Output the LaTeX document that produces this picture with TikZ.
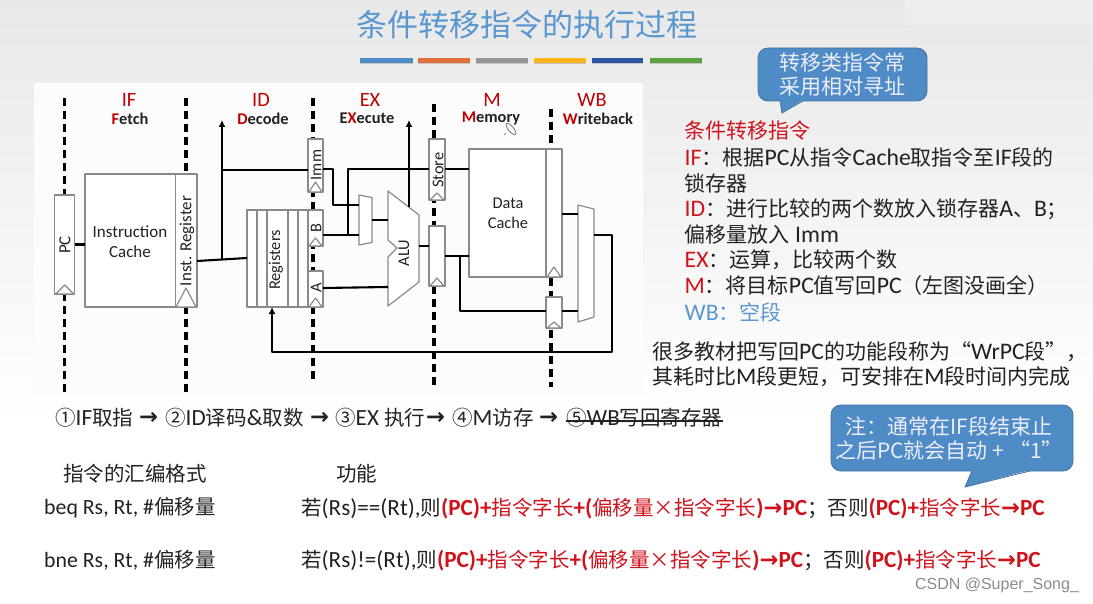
\documentclass[tikz,border=0pt]{standalone}
\usepackage{fontspec}
\usetikzlibrary{calc,arrows.meta,shadows}
\setmainfont[Scale=1.13]{Carlito}
\newfontfamily\cj{Noto Sans CJK SC}
\newfontfamily\wm{Liberation Sans}
\newfontfamily\arw[Scale=1.1]{DejaVu Sans}
\newcommand\z[1]{{\cj #1}}
\newcommand\fs[1]{\fontsize{#1}{#1}\selectfont}
\definecolor{rd}{HTML}{D0121B}
\definecolor{dkrd}{HTML}{C00000}
\definecolor{blu}{HTML}{5B97CF}
\definecolor{bub}{HTML}{4F8CC6}
\definecolor{bubl}{HTML}{41719C}
\definecolor{ink}{HTML}{222222}
\definecolor{gline}{HTML}{8A8A8A}
\newcommand\regb[5]{%
 \pgfmathsetmacro\bw{#4-#2}\pgfmathsetmacro\bh{#5-#3}%
 \pgfmathsetmacro\cxx{(#2+#4)/2}\pgfmathsetmacro\cyy{(#3+#5)/2}%
 \node[boxs,minimum width=\bw pt,minimum height=\bh pt] (#1) at (\cxx,\cyy) {};}
\newcommand\clk[4]{% node, x offset, half width, height
 \draw[boxline,fill=white] ($(#1.south)+(#2-#3,0)$) -- ($(#1.south)+(#2,-#4)$) -- ($(#1.south)+(#2+#3,0)$) -- cycle;}
\tikzset{
 boxline/.style={draw=gline,line width=1.2pt,line join=round},
 boxs/.style={boxline,fill=white,rectangle,inner sep=0pt,outer sep=0pt},
 wire/.style={draw=black,line width=2.1pt,line join=round},
 arrowwire/.style={wire,-{Latex[length=7pt,width=7pt]}},
 pipe/.style={draw=black,line width=3.2pt,dash pattern=on 8pt off 5pt},
 dlabel/.style={inner sep=0pt,text=ink,font=\fs{14.5}},
 vlabel/.style={dlabel,rotate=90},
 stage/.style={inner sep=0pt,text=dkrd,font=\fs{18}},
 sub/.style={inner sep=0pt,text=ink,font=\fs{14.5}\bfseries},
 txt/.style={anchor=west,inner sep=0pt,text=ink,font=\fs{21}},
 btxt/.style={anchor=west,inner sep=0pt,text=ink,font=\fs{20.5}},
 bubble/.style={rectangle,rounded corners=10pt,fill=bub,draw=bubl,line width=.8pt,align=center,text=white!93!blue,font=\fs{21},inner sep=0pt},
 bar/.style={draw=none,minimum height=5pt,inner sep=0pt,drop shadow={shadow xshift=0pt,shadow yshift=-1.5pt,opacity=.35}},
}
\definecolor{b1c}{HTML}{4E8CC9}\definecolor{b2c}{HTML}{E2703A}\definecolor{b3c}{HTML}{969696}
\definecolor{b4c}{HTML}{FDB515}\definecolor{b5c}{HTML}{2F55A4}\definecolor{b6c}{HTML}{5FA140}
\newcommand\parr{{\arw\bfseries →}}
\begin{document}
\begin{tikzpicture}[x=1pt,y=-1pt]
\useasboundingbox (0,0) rectangle (1093,604);
\fill[white] (0,0) rectangle (1093,604);
\shade[top color=black!9,bottom color=white] (0,0) rectangle (1093,420);
\fill[black!6.5] (905,0) rectangle (1093,25);
\fill[white!99!black] (34,83) rectangle (643,395);
% title
\node[inner sep=0pt,text=blu,font=\fs{31}\cj] (title) at (527,25) {条件转移指令的执行过程};
\node[bar,fill=b1c,minimum width=53pt] (b1) at (386.5,60.5) {};
\node[bar,fill=b2c,minimum width=52pt] (b2) at (444,60.5) {};
\node[bar,fill=b3c,minimum width=52pt] (b3) at (502,60.5) {};
\node[bar,fill=b4c,minimum width=52pt] (b4) at (560,60.5) {};
\node[bar,fill=b5c,minimum width=51pt] (b5) at (617.5,60.5) {};
\node[bar,fill=b6c,minimum width=52pt] (b6) at (676,60.5) {};
% pipeline separators
\coordinate (p1a) at (64.7,98); \coordinate (p1b) at (64.7,392);
\coordinate (p2a) at (186,98);  \coordinate (p2b) at (186,392);
\coordinate (p3a) at (313,98);  \coordinate (p3b) at (313,383);
\coordinate (p4a) at (434,104); \coordinate (p4b) at (434,387);
\coordinate (p5a) at (551,109); \coordinate (p5b) at (551,387);
\draw[pipe] (p1a)--(p1b); \draw[pipe] (p2a)--(p2b); \draw[pipe] (p3a)--(p3b);
\draw[pipe] (p4a)--(p4b); \draw[pipe] (p5a)--(p5b);
% stage labels
\node[stage] (sif) at (129,100) {IF};
\node[sub] (sf) at (130,118.5) {{\color{dkrd}F}etch};
\node[stage] (sid) at (261,100) {ID};
\node[sub] (sd) at (263,118.5) {{\color{dkrd}D}ecode};
\node[stage] (sex) at (370,100) {EX};
\node[sub] (se) at (367,118.5) {E{\color{dkrd}X}ecute};
\node[stage] (sm) at (492,100) {M};
\node[sub] (smm) at (491,118.5) {{\color{dkrd}M}emory};
\node[stage] (swb) at (592,100) {WB};
\node[sub] (sw) at (598,118.5) {{\color{dkrd}W}riteback};
\draw[black!60,line width=.7pt,rotate around={-50:(511,129)}] (511,129) ellipse (7 and 2.6);
\draw[black!60,line width=.7pt] (506,133) -- (504,135);
% boxes
\regb{pc}{54.7}{195}{74.7}{294}
\regb{ic}{85}{174}{197}{307}
\draw[boxline] (175.7,174) -- (175.7,307);
\regb{rf}{247}{210}{308}{307}
\foreach \xx in {257,267,288,298}{\draw[boxline] (\xx,210) -- (\xx,307);}
\regb{imm}{308}{139}{323}{192}
\regb{regb}{308}{210}{323}{246}
\regb{rega}{308}{271}{323}{307}
\regb{store}{429}{139}{445}{200}
\regb{aout}{429}{226}{445}{286}
\regb{dc}{469}{149}{562}{277}
\draw[boxline] (546,149) -- (546,277);
\regb{lmd}{546}{297}{562}{328}
\clk{pc}{0}{9}{9}
\clk{ic}{45}{10}{19}
\clk{imm}{0}{6.5}{10}
\clk{regb}{0}{6.5}{8}
\clk{rega}{0}{6.5}{9}
\clk{store}{0}{7}{7}
\clk{aout}{0}{7}{8}
\clk{dc}{38.5}{7}{10}
\clk{lmd}{0}{7}{6}
% box labels
\node[vlabel,font=\fs{15}] (lpc) at (65,245) {PC};
\node[dlabel,align=center,font=\fs{15}] (lic) at (130,242) {Instruction\\[5pt]Cache};
\node[vlabel,font=\fs{15}] (lir) at (187,241) {Inst. Register};
\node[vlabel] (lrf) at (276,260) {Registers};
\node[vlabel] (limm) at (316,165) {Imm};
\node[vlabel] (lb) at (316,228) {B};
\node[vlabel] (la) at (316,288) {A};
\node[vlabel] (lst) at (438,170) {Store};
\node[dlabel,align=center] (ldc) at (508,213.5) {Data\\[5pt]Cache};
% muxes and ALU
\coordinate (m1a) at (359,195); \coordinate (m1b) at (372,197.5); \coordinate (m1c) at (372,242.5); \coordinate (m1d) at (359,245);
\draw[boxline,fill=white] (m1a)--(m1b)--(m1c)--(m1d)--cycle;
\coordinate (m2a) at (578,205); \coordinate (m2b) at (594,209); \coordinate (m2c) at (594,317); \coordinate (m2d) at (578,322);
\draw[boxline,fill=white] (m2a)--(m2b)--(m2c)--(m2d)--cycle;
\coordinate (al1) at (388,191); \coordinate (al2) at (419,215); \coordinate (al3) at (419,282); \coordinate (al4) at (388,306);
\coordinate (al5) at (388,257); \coordinate (al6) at (397,248); \coordinate (al7) at (388,240);
\draw[boxline,fill=white] (al1)--(al2)--(al3)--(al4)--(al5)--(al6)--(al7)--cycle;
\node[vlabel] (lalu) at (404,253) {ALU};
% wires
\draw[wire] (pc.east) -- (ic.west |- pc.east);
\coordinate (irout) at (197,261); \coordinate (rfin) at (247,258);
\coordinate (j1) at (222,260); \coordinate (t1) at (222,120); \coordinate (j2) at (222,170);
\draw[wire] (irout) -- (rfin);
\draw[arrowwire] (j1) -- (t1);
\draw[wire] (j2) -- (imm.west |- j2);
% imm to mux
\coordinate (imo) at (323,169); \coordinate (imc) at (333,169); \coordinate (imd) at (333,205); \coordinate (ime) at (359,205);
\draw[wire] (imo) -- (imc) -- (imd) -- (ime);
% B to mux, store
\coordinate (bo) at (323,235); \coordinate (bm) at (359,235); \coordinate (sj) at (348,235); \coordinate (st) at (348,169);
\draw[wire] (bo) -- (bm);
\draw[wire] (sj) -- (st) -- (store.west |- st);
\draw[wire] (store.east |- st) -- (dc.west |- st);
% mux to ALU
\coordinate (m1o) at (372,220); \coordinate (alb) at (388,220);
\draw[wire] (m1o) -- (alb);
\coordinate (ao) at (323,288); \coordinate (ala) at (388,287);
\draw[wire] (ao) -- (ala);
% ALU up and out
\coordinate (u1) at (409,207); \coordinate (u2) at (409,120);
\draw[arrowwire] (u1) -- (u2);
\coordinate (alo) at (419,246);
\draw[wire] (alo) -- (aout.west |- alo);
\coordinate (ao2) at (445,256); \coordinate (dci) at (469,256); \coordinate (j3) at (460,256); \coordinate (j4) at (460,311);
\draw[wire] (ao2) -- (dci);
\draw[wire] (j3) -- (j4) -- (lmd.west |- j4);
% to final mux
\coordinate (dco) at (562,214); \coordinate (mi1) at (578,214);
\draw[wire] (dco) -- (mi1);
\coordinate (lmo) at (562,311); \coordinate (mi2) at (578,311);
\draw[wire] (lmo) -- (mi2);
% feedback
\coordinate (mo) at (594,235); \coordinate (f1) at (612,235); \coordinate (f2) at (612,352); \coordinate (f3) at (272,352); \coordinate (f4) at (272,307);
\draw[arrowwire] (mo) -- (f1) -- (f2) -- (f3) -- (f4);
% callouts
\node[bubble,minimum width=169pt,minimum height=53pt] (c1) at (842.5,74.5) {\z{转移类指令常}\\[3pt]\z{采用相对寻址}};
\fill[bub] (780,100) -- (782,113) -- (803,100) -- cycle;
\draw[bubl,line width=.8pt] (780,101) -- (782,113) -- (803,101);
\node[bubble,minimum width=242pt,minimum height=66pt] (c2) at (952,438) {\z{注：通常在IF段结束止}\rule{6pt}{0pt}\\[3pt]\z{之后PC就会自动 + “1”}\rule{6pt}{0pt}};
\fill[bub] (972,470) -- (965,487) -- (1030,470) -- cycle;
\draw[bubl,line width=.8pt] (972,471) -- (965,487) -- (1030,471);
% right text
\node[txt,text=rd] (r1) at (684.5,131) {\z{条件转移指令}};
\node[txt] (r2) at (684.5,158) {{\color{rd}IF}\z{：根据}PC\z{从指令}Cache\z{取指令至}IF\z{段的}};
\node[txt] (r3) at (684.5,183) {\z{锁存器}};
\node[txt] (r4) at (684.5,209) {{\color{rd}ID}\z{：进行比较的两个数放入锁存器}A\z{、}B\z{；}};
\node[txt] (r5) at (684.5,235) {\z{偏移量放入} Imm};
\node[txt] (r6) at (684.5,260) {{\color{rd}EX}\z{：运算，比较两个数}};
\node[txt] (r7) at (684.5,286) {{\color{rd}M}\z{：将目标}PC\z{值写回}PC\z{（左图没画全）}};
\node[txt,text=blu] (r8) at (684.5,312) {WB\z{：空段}};
\node[txt] (r9) at (652,352) {\z{很多教材把写回}PC\z{的功能段称为“}WrPC\z{段”，}};
\node[txt] (r10) at (652,377) {\z{其耗时比}M\z{段更短，可安排在}M\z{段时间内完成}};
% steps
\node[btxt] (s1) at (55,418) {\z{①}IF\z{取指}};
\node[btxt] (a1) at (139,418) {\parr};
\node[btxt] (s2) at (165,418) {\z{②}ID\z{译码}\&\z{取数}};
\node[btxt] (a2) at (310,418) {\parr};
\node[btxt] (s3) at (335,418) {\z{③}EX \z{执行}};
\node[btxt] (a3) at (426,418) {\parr};
\node[btxt] (s4) at (452,418) {\z{④}M\z{访存}};
\node[btxt] (a4) at (539,418) {\parr};
\node[btxt] (s5) at (566,418) {\z{⑤}WB\z{写回寄存器}};
\draw[ink,line width=1.4pt] (s5.west |- 0,421) -- (s5.east |- 0,421);
% table
\node[btxt] (h1) at (63,474) {\z{指令的汇编格式}};
\node[btxt] (h2) at (336,474) {\z{功能}};
\node[btxt] (l1) at (44,508) {{\fs{19.3}beq Rs, Rt, \#}\z{偏移量}};
\node[btxt] (f1t) at (301,508.5) {\z{若}(Rs)==(Rt),\z{则}{\color{rd}\textbf{(PC)+}\z{指令字长}\textbf{+(}\z{偏移量×指令字长}\textbf{)}\parr\textbf{PC}}\z{；否则}{\color{rd}\textbf{(PC)+}\z{指令字长}\parr\textbf{PC}}};
\node[btxt] (l2) at (44,560) {{\fs{19.3}bne Rs, Rt, \#}\z{偏移量}};
\node[btxt] (f2t) at (301,560.5) {\z{若}(Rs)!=(Rt),\z{则}{\color{rd}\textbf{(PC)+}\z{指令字长}\textbf{+(}\z{偏移量×指令字长}\textbf{)}\parr\textbf{PC}}\z{；否则}{\color{rd}\textbf{(PC)+}\z{指令字长}\parr\textbf{PC}}};
\node[inner sep=0pt,text=black!45,font=\fs{16}\wm] (wmk) at (997,585) {CSDN @Super\_Song\_};
\end{tikzpicture}
\end{document}
